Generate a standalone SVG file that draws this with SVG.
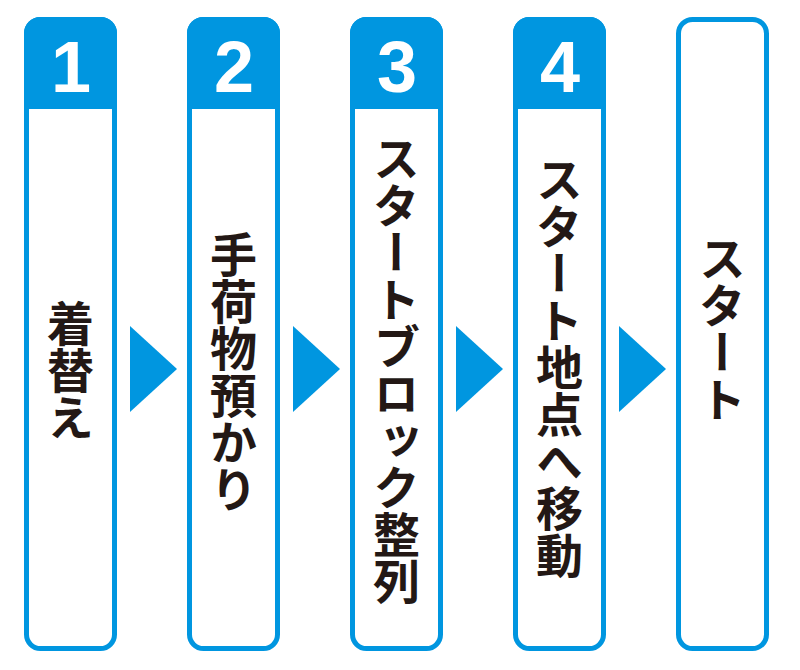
<svg xmlns="http://www.w3.org/2000/svg" width="800" height="670" viewBox="0 0 800 670">
<style>
.box{fill:#fff;stroke:#0096E0;stroke-width:5}
.hd{fill:#0096E0}
.num{font-family:"Liberation Sans",Arial,sans-serif;font-weight:bold;font-size:72px;fill:#fff;text-anchor:middle}
.lbl{font-family:"Noto Sans CJK JP",sans-serif;font-weight:bold;font-size:47px;fill:#231815;writing-mode:vertical-rl;text-anchor:middle}
.arr{fill:#0096E0}
</style>
<rect width="800" height="670" fill="#fff"/>
<g id="step1">
<rect class="box" x="26.5" y="19.5" width="88" height="629" rx="14"/>
<path class="hd" d="M24 109 V33 A16 16 0 0 1 40 17 H101 A16 16 0 0 1 117 33 V109 Z"/>
<text class="num" x="71" y="92">1</text>
<text class="lbl" x="70.5" y="370">着替え</text>
</g>
<g id="step2">
<rect class="box" x="189.5" y="19.5" width="88" height="629" rx="14"/>
<path class="hd" d="M187 109 V33 A16 16 0 0 1 203 17 H264 A16 16 0 0 1 280 33 V109 Z"/>
<text class="num" x="234" y="92">2</text>
<text class="lbl" x="233.5" y="372">手荷物預かり</text>
</g>
<g id="step3">
<rect class="box" x="352.5" y="19.5" width="88" height="629" rx="14"/>
<path class="hd" d="M350 109 V33 A16 16 0 0 1 366 17 H427 A16 16 0 0 1 443 33 V109 Z"/>
<text class="num" x="397" y="92">3</text>
<text class="lbl" x="396.5" y="370">スタートブロック整列</text>
</g>
<g id="step4">
<rect class="box" x="515.5" y="19.5" width="88" height="629" rx="14"/>
<path class="hd" d="M513 109 V33 A16 16 0 0 1 529 17 H590 A16 16 0 0 1 606 33 V109 Z"/>
<text class="num" x="560" y="92">4</text>
<text class="lbl" x="559.5" y="367">スタート地点へ移動</text>
</g>
<g id="step5">
<rect class="box" x="678.5" y="19.5" width="88" height="629" rx="14"/>
<text class="lbl" x="722.5" y="329">スタート</text>
</g>
<g id="connectors">
<polygon class="arr" points="130,326 177,369 130,412"/>
<polygon class="arr" points="293,326 340,369 293,412"/>
<polygon class="arr" points="456,326 503,369 456,412"/>
<polygon class="arr" points="619,326 666,369 619,412"/>
</g>
</svg>
